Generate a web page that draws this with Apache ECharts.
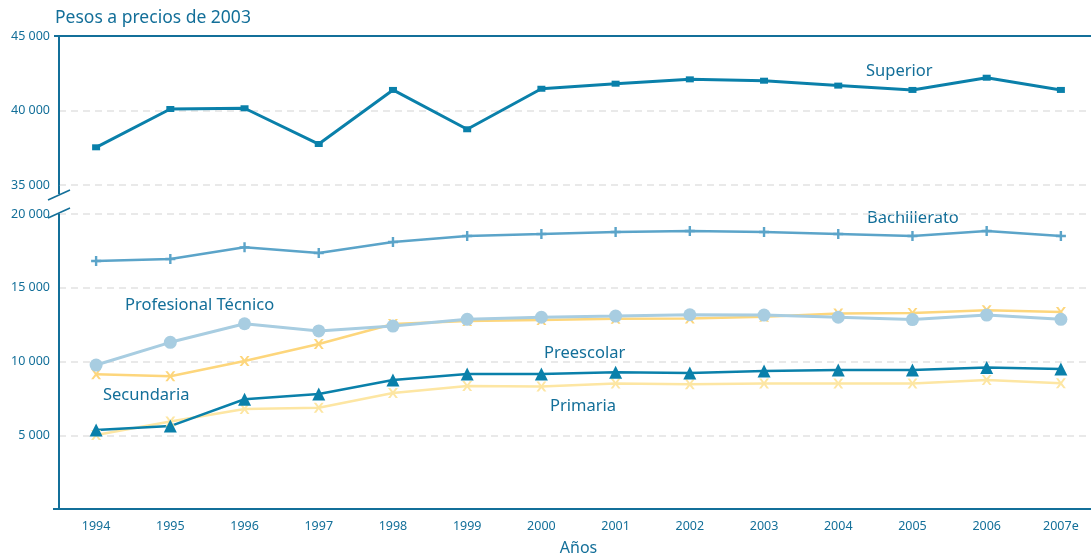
<!DOCTYPE html>
<html>
<head>
<meta charset="utf-8">
<script src="https://cdn.jsdelivr.net/npm/echarts@6/dist/echarts.min.js"></script>
<style>
  html, body { margin: 0; padding: 0; background: #fff; }
  #chart { width: 1091px; height: 557px; }
</style>
</head>
<body>
<div id="chart"></div>
<script>
// 年份
var years = ['1994','1995','1996','1997','1998','1999','2000','2001','2002','2003','2004','2005','2006','2007e'];

// 各级教育每名学生支出（2003年价格）
var superior     = [37530, 40100, 40150, 37750, 41380, 38740, 41460, 41800, 42090, 42000, 41670, 41380, 42200, 41380];
var bachillerato = [16810, 16950, 17740, 17360, 18100, 18510, 18640, 18780, 18850, 18780, 18640, 18510, 18850, 18510];
var profTecnico  = [ 9760, 11300, 12560, 12070, 12400, 12860, 13000, 13080, 13170, 13150, 13000, 12840, 13150, 12860];
var secundaria   = [ 9130,  9000, 10030, 11190, 12540, 12750, 12820, 12900, 12920, 13030, 13250, 13280, 13480, 13350];
var preescolar   = [ 5360,  5620,  7440,  7800,  8750,  9150,  9150,  9270,  9220,  9350,  9420,  9420,  9600,  9490];
var primaria     = [ 5020,  5930,  6780,  6870,  7870,  8340,  8300,  8510,  8450,  8510,  8510,  8510,  8750,  8520];

// 刻度
var upperTicks = [35000, 40000, 45000];
var lowerTicks = [0, 5000, 10000, 15000, 20000];

var blue = '#136f99';      // 文字、坐标轴
var font = 'Noto Sans';

var xMark = 'path://M0,0 L2.4,0 L5,3.4 L7.6,0 L10,0 L6.3,5 L10,10 L7.6,10 L5,6.6 L2.4,10 L0,10 L3.7,5 Z';
var plusMark = 'path://M3.8,0 L6.2,0 L6.2,3.8 L10,3.8 L10,6.2 L6.2,6.2 L6.2,10 L3.8,10 L3.8,6.2 L0,6.2 L0,3.8 L3.8,3.8 Z';

function fmt(v) {
    if (v === 0) return '';
    var s = String(v);
    return s.slice(0, s.length - 3) + ' ' + s.slice(-3);
}

function yAxisCfg(gridIndex, min, max) {
    return {
        type: 'value',
        gridIndex: gridIndex,
        min: min,
        max: max,
        interval: 5000,
        axisLine: { show: true, lineStyle: { color: blue, width: 2 } },
        axisTick: { show: false },
        axisLabel: { color: blue, fontFamily: font, fontSize: 12.5, margin: 9, formatter: fmt },
        splitLine: { show: true, lineStyle: { color: '#e2e2e2', type: [7, 5], width: 1.5 } }
    };
}

function line(name, data, color, symbol, size, width, axisIdx) {
    return {
        name: name,
        type: 'line',
        xAxisIndex: axisIdx,
        yAxisIndex: axisIdx,
        data: data,
        symbol: symbol,
        symbolSize: size,
        showAllSymbol: true,
        lineStyle: { color: color, width: width },
        itemStyle: { color: color },
        animation: false
    };
}

function label(text, x, y) {
    return {
        type: 'text', left: x, top: y,
        style: { text: text, fill: blue, font: '16.5px "Noto Sans"' }
    };
}

var chart = echarts.init(document.getElementById('chart'));
chart.setOption({
    backgroundColor: '#fff',
    grid: [
        { left: 59, width: 1039, top: 36, height: 149, outerBoundsMode: 'none', containLabel: false },
        { left: 59, width: 1039, top: 214, height: 295, outerBoundsMode: 'none', containLabel: false }
    ],
    xAxis: [
        {
            type: 'category', gridIndex: 0, data: years, position: 'top',
            axisLine: { show: true, lineStyle: { color: blue, width: 2 } },
            axisTick: { show: false }, axisLabel: { show: false }
        },
        {
            type: 'category', gridIndex: 1, data: years,
            axisLine: { show: true, lineStyle: { color: blue, width: 2 } },
            axisTick: { show: false },
            axisLabel: { color: blue, fontFamily: font, fontSize: 12.5, margin: 11 },
            name: 'Años', nameLocation: 'middle', nameGap: 31,
            nameTextStyle: { color: blue, fontFamily: font, fontSize: 16 }
        }
    ],
    yAxis: [
        yAxisCfg(0, upperTicks[0], upperTicks[upperTicks.length - 1]),
        yAxisCfg(1, lowerTicks[0], lowerTicks[lowerTicks.length - 1])
    ],
    series: [
        line('Superior', superior, '#0a80aa', 'rect', [8, 6], 3, 0),
        line('Bachillerato', bachillerato, '#5ba4c9', plusMark, 10, 2.5, 1),
        line('Secundaria', secundaria, '#fdd67c', xMark, 10, 2.5, 1),
        line('Profesional Técnico', profTecnico, '#a8cde1', 'circle', 13, 3, 1),
        line('Primaria', primaria, '#fde6a3', xMark, 10, 2.5, 1),
        line('Preescolar', preescolar, '#0a80aa', 'triangle', 13, 2.5, 1)
    ],
    graphic: [
        { type: 'text', left: 55, top: 9, style: { text: 'Pesos a precios de 2003', fill: blue, font: '17.5px "Noto Sans"' } },
        // 断轴
        { type: 'line', shape: { x1: 59, y1: 184, x2: 59, y2: 194 }, style: { stroke: blue, lineWidth: 2 } },
        { type: 'line', shape: { x1: 48, y1: 200, x2: 70, y2: 190 }, style: { stroke: blue, lineWidth: 1.5 } },
        { type: 'line', shape: { x1: 48, y1: 218, x2: 70, y2: 208 }, style: { stroke: blue, lineWidth: 1.5 } },
        { type: 'line', shape: { x1: 54, y1: 36, x2: 60, y2: 36 }, style: { stroke: blue, lineWidth: 2 } },
        { type: 'line', shape: { x1: 53, y1: 509, x2: 60, y2: 509 }, style: { stroke: blue, lineWidth: 2 } },
        label('Superior', 866, 63),
        label('Bachillerato', 867, 210),
        label('Profesional Técnico', 125, 297),
        label('Preescolar', 544, 345),
        label('Secundaria', 103, 387),
        label('Primaria', 550, 398)
    ]
});
</script>
</body>
</html>
